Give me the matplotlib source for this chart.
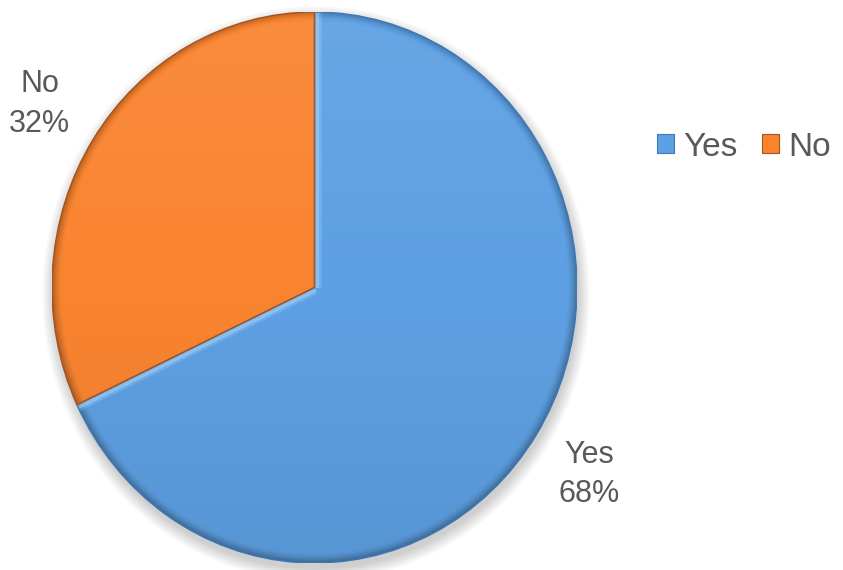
import numpy as np
import matplotlib
matplotlib.use("Agg")
import matplotlib.pyplot as plt
from matplotlib.patches import Ellipse, Patch, Wedge

# Survey answers
categories = ["Yes", "No"]
shares = [68, 32]
colors = ["#5DA0E3", "#F98430"]
edge_colors = ["#3C78B8", "#A9521A"]
text_color = "#595959"

plt.rcParams["font.family"] = ["Liberation Sans", "DejaVu Sans"]

W, H = 843, 570
fig = plt.figure(figsize=(W / 100, H / 100), dpi=100)
fig.patch.set_facecolor("white")

# Pie area (the chart is stretched slightly taller than wide)
left, right, top, bottom = 52, 577, 12, 563
ax = fig.add_axes([left / W, (H - bottom) / H, (right - left) / W, (bottom - top) / H])
ax_w, ax_h = right - left, bottom - top

# Soft drop shadow under the pie
for k in range(12):
    grow = 0.004 * k
    ax.add_patch(Ellipse((0.006, -0.022), 2.0 + grow * 2, 2.0 + grow * 2,
                         facecolor="black", edgecolor="none",
                         alpha=0.016, zorder=0, clip_on=False))

wedges, _ = ax.pie(shares, colors=colors, startangle=90, counterclock=False,
                   wedgeprops=dict(linewidth=0))
for w in wedges:
    w.set_zorder(2)

# Shading: lighter toward the top, darker bevel at the rim
n = 400
xs = np.linspace(-1, 1, n)
ys = np.linspace(1, -1, n)
X, Y = np.meshgrid(xs, ys)
R = np.sqrt(X ** 2 + Y ** 2)
rim = np.clip((R - 0.965) / 0.035, 0, 1) ** 1.5
shade = 0.07 * Y - 0.30 * rim
rgba = np.zeros((n, n, 4))
light = shade > 0
rgba[light, :3] = 1.0
rgba[light, 3] = shade[light]
rgba[~light, :3] = 0.05
rgba[~light, 3] = -shade[~light]

for w in wedges:
    im = ax.imshow(rgba, extent=(-1, 1, -1, 1), aspect="auto", zorder=3,
                   interpolation="bilinear")
    im.set_clip_path(w)

# Bevel highlight along both radial edges, on the blue side
yes = wedges[0]
for ang, side in [(yes.theta1, 1), (yes.theta2, -1)]:
    t = np.deg2rad(ang)
    dx, dy = np.cos(t) * ax_w / 2, np.sin(t) * ax_h / 2
    L = np.hypot(dx, dy)
    # unit normal in pixels pointing into the blue wedge
    nx, ny = -dy / L * side, dx / L * side
    for off, a, lw in [(2.5, 0.55, 3.0), (5.0, 0.25, 3.0)]:
        ox, oy = nx * off / (ax_w / 2), ny * off / (ax_h / 2)
        ln, = ax.plot([ox, np.cos(t) + ox], [oy, np.sin(t) + oy],
                      color="#A8D6FA", alpha=a, lw=lw, zorder=4,
                      solid_capstyle="butt")
        ln.set_clip_path(yes)

# Outlines drawn on top of the shading
for w, ec in zip(wedges, edge_colors):
    ax.add_patch(Wedge(w.center, w.r, w.theta1, w.theta2, fill=False,
                       edgecolor=ec, linewidth=1.0, zorder=5))

ax.set_aspect("auto")
ax.set_xlim(-1, 1)
ax.set_ylim(-1, 1)
ax.axis("off")

# Data labels placed outside at each wedge's mid angle
for w, cat, val in zip(wedges, categories, shares):
    mid = np.deg2rad((w.theta1 + w.theta2) / 2)
    lx = 1.24 * np.cos(mid)
    ly = 1.255 * np.sin(mid) - 0.006
    ax.text(lx, ly, f"{cat}\n{val}%", ha="center", va="center",
            fontsize=22, color=text_color, linespacing=1.42, clip_on=False)

handles = [Patch(facecolor=c, edgecolor=e, linewidth=0.8) for c, e in zip(colors, edge_colors)]
fig.legend(handles, categories, loc="center left",
           bbox_to_anchor=(657 / W, 1 - 147 / H), ncol=2, frameon=False,
           fontsize=24, labelcolor=text_color, handlelength=0.51, handleheight=0.51,
           handletextpad=0.27, columnspacing=0.75, borderpad=0, borderaxespad=0)

fig.savefig("out.png", dpi=100, facecolor="white")
